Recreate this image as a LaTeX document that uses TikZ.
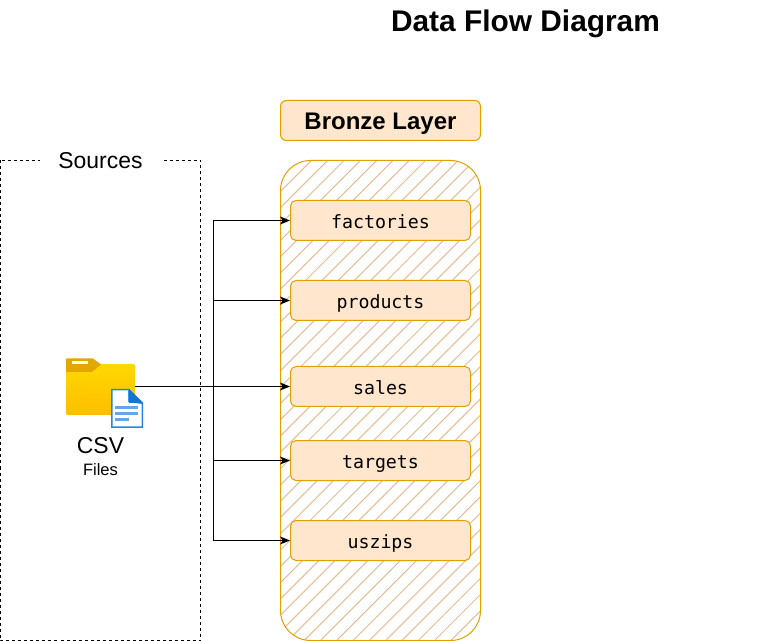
\documentclass[tikz,border=0pt]{standalone}
\usepackage{fontspec}
\setmainfont{Liberation Sans}
\newfontfamily\monof{DejaVu Sans Mono}
\usetikzlibrary{arrows.meta}
\definecolor{bronzefill}{HTML}{FFE6CC}
\definecolor{bronzeline}{HTML}{E0A000}
\definecolor{hatchc}{HTML}{E2BE96}
\definecolor{foldertop}{HTML}{FFD800}
\definecolor{folderbot}{HTML}{FFBE00}
\definecolor{foldertab}{HTML}{E2A800}
\definecolor{docblue}{HTML}{1E88E5}
\definecolor{docdark}{HTML}{1476D2}
\definecolor{docline}{HTML}{64A5F0}
\tikzset{
  x=0.75pt,y=-0.75pt,
  tablebox/.style={draw=bronzeline,fill=bronzefill,rounded corners=5.5*0.75pt,line width=0.75pt,minimum width=180*0.75pt,minimum height=40*0.75pt,inner sep=0pt,text height=13.6pt,text depth=2.2pt,font=\monof\fontsize{13.7}{16}\selectfont},
  layerbox/.style={draw=bronzeline,fill=bronzefill,rounded corners=6*0.75pt,line width=0.75pt,minimum width=200*0.75pt,minimum height=40*0.75pt,inner sep=0pt,text height=15pt,text depth=2.2pt,font=\fontsize{18}{22}\selectfont\bfseries},
  flow/.style={draw=black,line width=0.75pt,-{Stealth[length=7.5pt,width=6pt,inset=2pt]}},
  label/.style={inner sep=0pt,text=black},
}
\begin{document}
\begin{tikzpicture}
\useasboundingbox (0,0) rectangle (771,641);
% title
\node[label,anchor=base,font=\fontsize{22.4}{26}\selectfont\bfseries] (title) at (525.5,31.5) {Data Flow Diagram};
% sources frame
\draw[black,line width=0.75pt,dash pattern=on 2.25pt off 2.25pt] (0.5,160.5) rectangle (200.5,640.5);
\node[fill=white,inner sep=0pt,minimum width=122*0.75pt,minimum height=20*0.75pt] (srcbg) at (101,161) {};
\node[label,font=\fontsize{17.2}{20}\selectfont] (sources) at (100.5,161) {Sources};
% layer panel
\begin{scope}
  \clip[rounded corners=30*0.75pt] (280.5,160.5) rectangle (480.5,640.5);
  \foreach \k in {0,...,40}{
    \draw[hatchc,line width=0.75pt] ({272+\k*16.3},640) -- ({752+\k*16.3},160);
    \draw[hatchc,line width=0.75pt] ({272-\k*16.3},640) -- ({752-\k*16.3},160);
  }
\end{scope}
\draw[bronzeline,line width=0.75pt,rounded corners=30*0.75pt] (280.5,160.5) rectangle (480.5,640.5);
\node[layerbox] (bronze) at (380.5,120.5) {Bronze Layer};
% tables
\node[tablebox] (factories) at (380.5,220.5) {factories};
\node[tablebox] (products) at (380.5,300.5) {products};
\node[tablebox] (sales) at (380.5,386.5) {sales};
\node[tablebox] (targets) at (380.5,460.5) {targets};
\node[tablebox] (uszips) at (380.5,540.5) {uszips};
% folder icon
\shade[top color=foldertop,bottom color=folderbot] (66,372) -- (66,413.5) -- (67,415) -- (133.5,415) -- (135,413.5) -- (135,366) -- (134,364) -- (101,364) -- (92,372) -- cycle;
\fill[foldertab] (66,372) -- (66,359.5) -- (67,358.5) -- (93,358.5) -- (101,364.5) -- (92,372) -- cycle;
\fill[white!85!yellow] (72,361) rectangle (88,364.5);
\node[inner sep=0pt,minimum size=1pt] (folder) at (135,386.5) {};
% document icon
\fill[docblue] (111,389) -- (129,389) -- (143,403) -- (143,428) -- (111,428) -- cycle;
\fill[white] (112.5,390.5) -- (128,390.5) -- (128,402) -- (141.5,404) -- (141.5,426.5) -- (112.5,426.5) -- cycle;
\fill[docdark] (129,389) -- (143,403) -- (129,403) -- cycle;
\fill[docline] (115,406) rectangle (138,409);
\fill[docline] (115,412) rectangle (138,415);
\fill[docline] (115,418) rectangle (129,421);
% icon labels
\node[label,font=\fontsize{17.2}{20}\selectfont] (csv) at (100.5,446) {CSV};
\node[label,font=\fontsize{12.4}{14}\selectfont] (files) at (100.5,469.5) {Files};
% connectors
\coordinate (trunk) at (213,386.5);
\draw[flow] (folder.center) -- (sales.west);
\draw[flow] (trunk) |- (factories.west);
\draw[flow] (trunk) |- (products.west);
\draw[flow] (trunk) |- (targets.west);
\draw[flow] (trunk) |- (uszips.west);
\end{tikzpicture}
\end{document}
